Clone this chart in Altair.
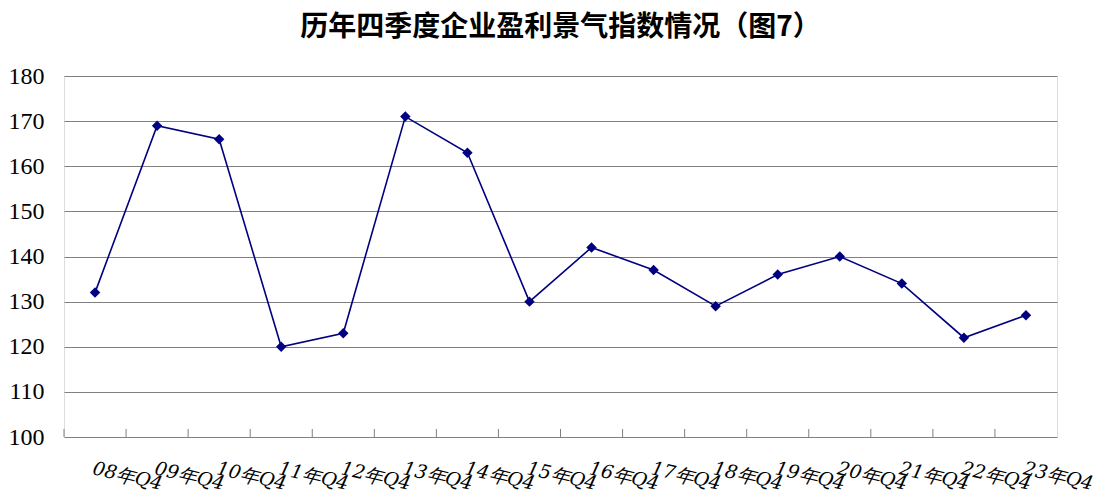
import altair as alt
import pandas as pd

categories = ["08年Q4", "09年Q4", "10年Q4", "11年Q4", "12年Q4", "13年Q4", "14年Q4", "15年Q4",
              "16年Q4", "17年Q4", "18年Q4", "19年Q4", "20年Q4", "21年Q4", "22年Q4", "23年Q4"]
values = [132, 169, 166, 120, 123, 171, 163, 130, 142, 137, 129, 136, 140, 134, 122, 127]
y_ticks = [100, 110, 120, 130, 140, 150, 160, 170, 180]

df = pd.DataFrame({"label": categories, "value": values})

W, H = 993, 361
xscale = alt.Scale(type="band", domain=categories, paddingInner=0, paddingOuter=0)
yscale = alt.Scale(domain=[100, 180], nice=False, zero=False)

x_axis = alt.Axis(title=None, domain=False, ticks=False, grid=False,
                  labelAngle=13, labelAlign="left", labelBaseline="top",
                  labelPadding=22, labelFont="DejaVu Serif", labelFontStyle="italic",
                  labelFontSize=19, labelColor="#000", labelOverlap=False, labelBound=False)
y_axis = alt.Axis(title=None, values=y_ticks, domain=False, ticks=False,
                  grid=True, gridColor="#808080", gridWidth=1,
                  labelFont="Times New Roman", labelFontSize=24, labelColor="#000",
                  labelPadding=20, labelAlign="right")

base = alt.Chart(df)

line = base.mark_line(color="#000080", strokeWidth=1.6).encode(
    x=alt.X("label:N", scale=xscale, axis=x_axis, sort=categories, bandPosition=0.5),
    y=alt.Y("value:Q", scale=yscale, axis=y_axis),
)
points = base.mark_point(shape="diamond", filled=True, color="#000080", size=110, opacity=1).encode(
    x=alt.X("label:N", scale=xscale, sort=categories, bandPosition=0.5),
    y=alt.Y("value:Q", scale=yscale),
)
ticks = base.mark_rule(color="#808080", strokeWidth=1).encode(
    x=alt.X("label:N", scale=xscale, sort=categories, bandPosition=0),
    y=alt.value(H - 8),
    y2=alt.value(H),
)

chart = alt.layer(ticks, line, points).properties(
    width=W, height=H,
    title=alt.TitleParams("历年四季度企业盈利景气指数情况（图7）", font="Noto Sans CJK SC",
                          fontSize=28, fontWeight="bold", color="#000", anchor="middle", offset=22),
    autosize=alt.AutoSizeParams(type="none"),
    padding={"left": 56, "top": 68, "right": 40, "bottom": 56},
).configure_view(stroke="#404040", strokeWidth=1.5).configure(background="white")

chart.save("out.html", embed_options={"renderer": "svg", "actions": False})
